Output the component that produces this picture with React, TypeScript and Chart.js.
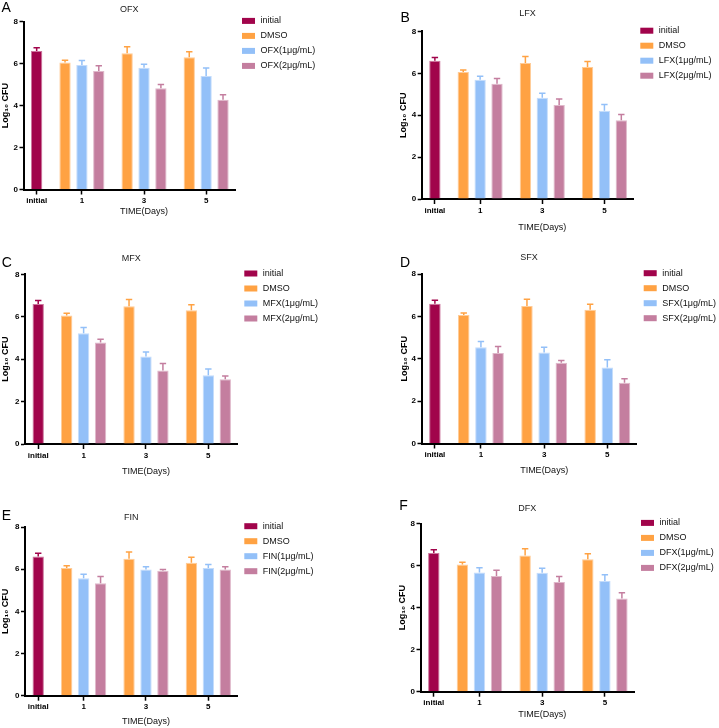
import React, { useEffect, useRef } from 'react';
import { Chart, registerables } from 'chart.js';

Chart.register(...registerables);
Chart.defaults.font.family = '"Liberation Sans", Arial, Helvetica, sans-serif';
Chart.defaults.color = '#000';

// ---------- data ----------
const X_LABELS = ['initial', '1', '3', '5'];
const SERIES_INITIAL = 'initial';
const SERIES_DMSO = 'DMSO';

const INITIAL = [6.6];
const INITIAL_ERR = [0.16];
const DMSO = [6.06, 6.49, 6.31];
const DMSO_ERR = [0.1, 0.32, 0.26];

const OFX_LOW = [5.93, 5.81, 5.41];
const OFX_LOW_ERR = [0.22, 0.16, 0.38];
const OFX_HIGH = [5.65, 4.83, 4.28];
const OFX_HIGH_ERR = [0.25, 0.18, 0.24];

const LFX_LOW = [5.69, 4.84, 4.21];
const LFX_LOW_ERR = [0.17, 0.21, 0.3];
const LFX_HIGH = [5.51, 4.49, 3.76];
const LFX_HIGH_ERR = [0.24, 0.29, 0.27];

const MFX_LOW = [5.22, 4.12, 3.24];
const MFX_LOW_ERR = [0.27, 0.22, 0.3];
const MFX_HIGH = [4.78, 3.47, 3.05];
const MFX_HIGH_ERR = [0.16, 0.33, 0.16];

const SFX_LOW = [4.54, 4.3, 3.59];
const SFX_LOW_ERR = [0.28, 0.24, 0.36];
const SFX_HIGH = [4.27, 3.81, 2.87];
const SFX_HIGH_ERR = [0.31, 0.11, 0.19];

const FIN_LOW = [5.57, 5.99, 6.06];
const FIN_LOW_ERR = [0.19, 0.13, 0.16];
const FIN_HIGH = [5.33, 5.93, 5.99];
const FIN_HIGH_ERR = [0.32, 0.06, 0.13];

const DFX_LOW = [5.68, 5.67, 5.27];
const DFX_LOW_ERR = [0.22, 0.21, 0.3];
const DFX_HIGH = [5.51, 5.22, 4.44];
const DFX_HIGH_ERR = [0.27, 0.27, 0.27];

const Y_TITLE = 'Log\u2081\u2080 CFU';
const X_TITLE = 'TIME(Days)';

// ---------- styling / layout ----------
const COLORS = {
  initial: '#A1044B',
  dmso: '#FFA243',
  low: '#93C0F8',
  high: '#C47E9F',
};
const BORDERS = {
  initial: 'rgba(161,4,75,0.55)',
  dmso: 'rgba(255,162,67,0.55)',
  low: 'rgba(147,192,248,0.55)',
  high: 'rgba(196,126,159,0.55)',
};

const GROUP_SIZES = [1, 3, 3, 3];
const GAP = 0.68;
const X_MIN = -0.28;
const X_MAX = 12.25;

function groupStart(g: number) {
  let s = 0;
  for (let i = 0; i < g; i++) s += GROUP_SIZES[i] + GAP;
  return s;
}
function slotCenter(g: number, k: number) {
  return groupStart(g) + k + 0.5;
}
function groupCenter(g: number) {
  return groupStart(g) + GROUP_SIZES[g] / 2;
}

type Panel = {
  letter: string;
  drug: string;
  low: number[];
  lowErr: number[];
  high: number[];
  highErr: number[];
  box: { x: number; y: number; w: number; h: number };
  area: { L: number; T: number; R: number; B: number };
  titleY: number;
  ylabX: number;
  timeY: number;
  letterPos: { x: number; y: number };
};

const PANELS: Panel[] = [
  {
    letter: 'A', drug: 'OFX', low: OFX_LOW, lowErr: OFX_LOW_ERR, high: OFX_HIGH, highErr: OFX_HIGH_ERR,
    box: { x: 0, y: 0, w: 360, h: 225 }, area: { L: 23.5, T: 21.7, R: 235, B: 189.5 },
    titleY: 10, ylabX: 5, timeY: 212, letterPos: { x: 1.5, y: 11.8 },
  },
  {
    letter: 'B', drug: 'LFX', low: LFX_LOW, lowErr: LFX_LOW_ERR, high: LFX_HIGH, highErr: LFX_HIGH_ERR,
    box: { x: 360, y: 0, w: 359, h: 240 }, area: { L: 421.7, T: 31.5, R: 633.3, B: 199 },
    titleY: 13.3, ylabX: 403.3, timeY: 227.7, letterPos: { x: 400.5, y: 21.7 },
  },
  {
    letter: 'C', drug: 'MFX', low: MFX_LOW, lowErr: MFX_LOW_ERR, high: MFX_HIGH, highErr: MFX_HIGH_ERR,
    box: { x: 0, y: 240, w: 360, h: 240 }, area: { L: 25, T: 274.3, R: 237.3, B: 444 },
    titleY: 258.3, ylabX: 6, timeY: 471.7, letterPos: { x: 1.7, y: 266.7 },
  },
  {
    letter: 'D', drug: 'SFX', low: SFX_LOW, lowErr: SFX_LOW_ERR, high: SFX_HIGH, highErr: SFX_HIGH_ERR,
    box: { x: 360, y: 240, w: 359, h: 240 }, area: { L: 421.5, T: 274, R: 636.7, B: 443.5 },
    titleY: 257.3, ylabX: 404.5, timeY: 471, letterPos: { x: 400, y: 266.7 },
  },
  {
    letter: 'E', drug: 'FIN', low: FIN_LOW, lowErr: FIN_LOW_ERR, high: FIN_HIGH, highErr: FIN_HIGH_ERR,
    box: { x: 0, y: 490, w: 360, h: 238 }, area: { L: 25, T: 527, R: 237.3, B: 695.7 },
    titleY: 517.7, ylabX: 6, timeY: 721.7, letterPos: { x: 1.7, y: 520 },
  },
  {
    letter: 'F', drug: 'DFX', low: DFX_LOW, lowErr: DFX_LOW_ERR, high: DFX_HIGH, highErr: DFX_HIGH_ERR,
    box: { x: 360, y: 490, w: 359, h: 238 }, area: { L: 420.5, T: 523.7, R: 634, B: 691.7 },
    titleY: 509, ylabX: 403, timeY: 715, letterPos: { x: 399.3, y: 510 },
  },
];

const errorBarPlugin = {
  id: 'errorBars',
  afterDatasetsDraw(chart: any) {
    const ctx = chart.ctx;
    const yScale = chart.scales.y;
    chart.data.datasets.forEach((ds: any, di: number) => {
      const meta = chart.getDatasetMeta(di);
      meta.data.forEach((bar: any, i: number) => {
        const v = ds.data[i].y;
        const e = ds.errors[i];
        const yTop = yScale.getPixelForValue(v + e);
        ctx.save();
        ctx.strokeStyle = ds.backgroundColor;
        ctx.lineWidth = 1.5;
        ctx.beginPath();
        ctx.moveTo(bar.x, bar.y);
        ctx.lineTo(bar.x, yTop);
        ctx.moveTo(bar.x - 3.2, yTop);
        ctx.lineTo(bar.x + 3.2, yTop);
        ctx.stroke();
        ctx.restore();
      });
    });
  },
};

function makeDecorPlugin(p: Panel) {
  return {
    id: 'decor',
    afterDraw(chart: any) {
      const ctx = chart.ctx;
      const area = chart.chartArea;
      const fam = Chart.defaults.font.family as string;
      ctx.save();
      // panel letter
      ctx.fillStyle = '#000';
      ctx.font = `normal 14px ${fam}`;
      ctx.textAlign = 'left';
      ctx.textBaseline = 'alphabetic';
      ctx.fillText(p.letter, p.letterPos.x - p.box.x, p.letterPos.y - p.box.y);
      // x axis title centred on the middle day group
      const xs = chart.scales.x;
      ctx.font = `normal 9px ${fam}`;
      ctx.textAlign = 'center';
      ctx.textBaseline = 'middle';
      ctx.fillStyle = '#111';
      ctx.fillText(X_TITLE, xs.getPixelForValue(groupCenter(2)), p.timeY - p.box.y);
      // legend
      ctx.textAlign = 'left';
      chart.data.datasets.forEach((ds: any, i: number) => {
        const y = area.top - 0.8 + 15 * i;
        ctx.fillStyle = ds.backgroundColor;
        ctx.fillRect(area.right + 7, y - 3, 13, 6);
        ctx.fillStyle = '#111';
        ctx.fillText(ds.label, area.right + 25.5, y);
      });
      ctx.restore();
    },
  };
}

function buildConfig(p: Panel): any {
  const cx = p.box.x;
  const cy = p.box.y;
  const L = p.area.L - cx;
  const T = p.area.T - cy;
  const R = p.area.R - cx;
  const B = p.area.B - cy;
  const titleCenter = p.titleY - cy;
  const padTop = titleCenter - 5.4;
  const titlePadBottom = Math.max(0, T - (titleCenter + 5.4));

  const common = {
    grouped: false,
    categoryPercentage: 1,
    barPercentage: 0.67,
    borderWidth: 1,
    borderSkipped: 'start',
  };

  const datasets = [
    {
      ...common,
      label: SERIES_INITIAL,
      data: INITIAL.map((v) => ({ x: slotCenter(0, 0), y: v })),
      errors: INITIAL_ERR,
      backgroundColor: COLORS.initial,
      borderColor: BORDERS.initial,
    },
    {
      ...common,
      label: SERIES_DMSO,
      data: DMSO.map((v, i) => ({ x: slotCenter(i + 1, 0), y: v })),
      errors: DMSO_ERR,
      backgroundColor: COLORS.dmso,
      borderColor: BORDERS.dmso,
    },
    {
      ...common,
      label: `${p.drug}(1\u03bcg/mL)`,
      data: p.low.map((v, i) => ({ x: slotCenter(i + 1, 1), y: v })),
      errors: p.lowErr,
      backgroundColor: COLORS.low,
      borderColor: BORDERS.low,
    },
    {
      ...common,
      label: `${p.drug}(2\u03bcg/mL)`,
      data: p.high.map((v, i) => ({ x: slotCenter(i + 1, 2), y: v })),
      errors: p.highErr,
      backgroundColor: COLORS.high,
      borderColor: BORDERS.high,
    },
  ];

  const tickValues = GROUP_SIZES.map((_, g) => groupCenter(g));

  return {
    type: 'bar',
    data: { datasets },
    options: {
      responsive: false,
      animation: false,
      devicePixelRatio: 1,
      layout: { padding: { left: 0, top: padTop, right: p.box.w - R, bottom: 0 } },
      plugins: {
        legend: { display: false },
        tooltip: { enabled: false },
        title: {
          display: true,
          text: p.drug,
          fullSize: false,
          color: '#222',
          font: { size: 9, weight: 'normal' },
          padding: { top: 0, bottom: titlePadBottom },
        },
      },
      scales: {
        x: {
          type: 'linear',
          min: X_MIN,
          max: X_MAX,
          offset: false,
          afterFit: (s: any) => {
            s.height = p.box.h - B;
          },
          afterBuildTicks: (s: any) => {
            s.ticks = tickValues.map((v) => ({ value: v }));
          },
          ticks: {
            autoSkip: false,
            maxRotation: 0,
            padding: 1.5,
            color: '#000',
            font: { size: 8, weight: 'bold' },
            callback: (_v: any, i: number) => X_LABELS[i],
          },
          grid: {
            display: true,
            offset: false,
            drawOnChartArea: false,
            drawTicks: true,
            tickLength: 5,
            tickWidth: 1.5,
            tickColor: '#000',
          },
          border: { display: true, color: '#000', width: 2 },
          title: { display: false },
        },
        y: {
          type: 'linear',
          min: 0,
          max: 8,
          afterFit: (s: any) => {
            s.width = L;
          },
          ticks: {
            stepSize: 2,
            padding: 1.5,
            color: '#000',
            font: { size: 8, weight: 'bold' },
          },
          grid: {
            display: true,
            drawOnChartArea: false,
            drawTicks: true,
            tickLength: 4,
            tickWidth: 1.5,
            tickColor: '#000',
          },
          border: { display: true, color: '#000', width: 2 },
          title: {
            display: true,
            text: Y_TITLE,
            color: '#000',
            font: { size: 9, weight: 'bold' },
            padding: { top: Math.max(0, p.ylabX - cx - 5.4), bottom: 0 },
          },
        },
      },
    },
    plugins: [errorBarPlugin, makeDecorPlugin(p)],
  };
}

function PanelChart({ p }: { p: Panel }) {
  const ref = useRef<HTMLCanvasElement | null>(null);
  useEffect(() => {
    if (!ref.current) return;
    const chart = new Chart(ref.current, buildConfig(p));
    return () => chart.destroy();
  }, [p]);
  return (
    <canvas
      ref={ref}
      width={p.box.w}
      height={p.box.h}
      style={{
        position: 'absolute',
        left: p.box.x,
        top: p.box.y,
        width: p.box.w,
        height: p.box.h,
      }}
    />
  );
}

export default function App() {
  return (
    <div
      style={{
        position: 'absolute',
        left: 0,
        top: 0,
        width: 719,
        height: 728,
        background: '#fff',
        overflow: 'hidden',
      }}
    >
      {PANELS.map((p) => (
        <PanelChart key={p.letter} p={p} />
      ))}
    </div>
  );
}
